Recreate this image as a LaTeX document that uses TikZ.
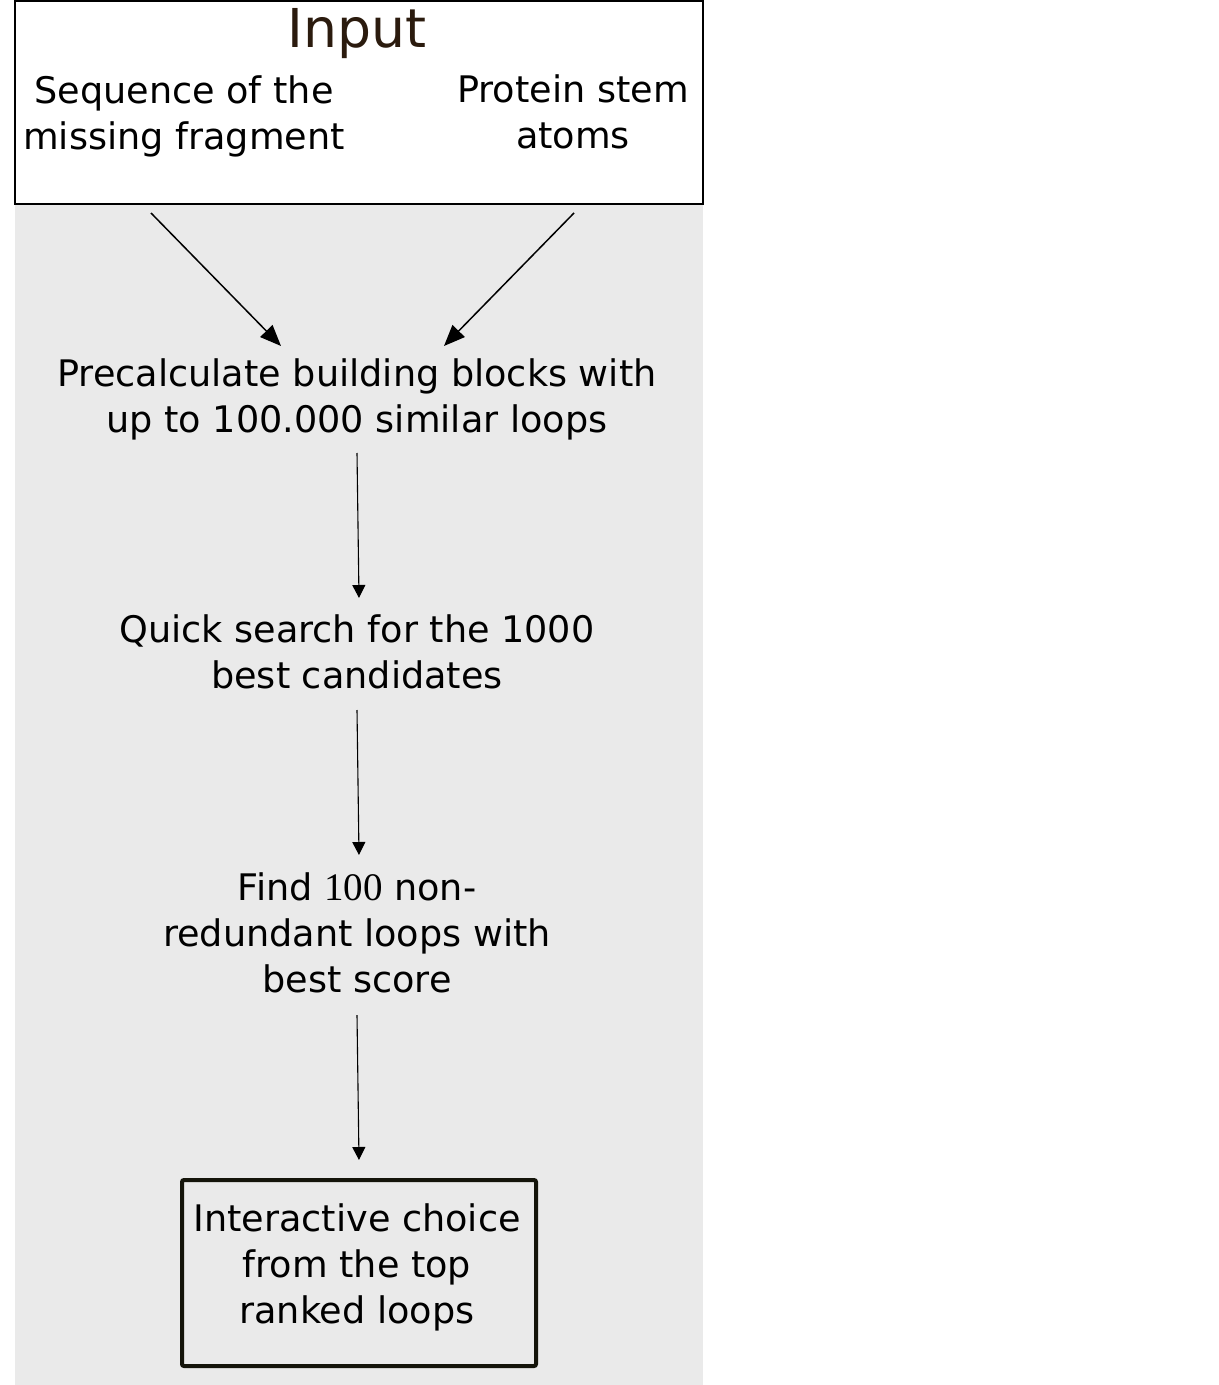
\documentclass[tikz,border=0pt]{standalone}
\usepackage{fontspec}
\setmainfont{DejaVu Sans}
\newfontfamily\numserif{Liberation Serif}
\usetikzlibrary{arrows.meta}
\definecolor{bggray}{HTML}{EAEAEA}
\definecolor{titlebrown}{HTML}{2B1B0E}
\definecolor{boxdark}{HTML}{14140A}
\begin{document}
\begin{tikzpicture}[x=0.5pt,y=-0.5pt,
  txt/.style={align=center,inner sep=0pt,font=\fontsize{18.3}{23}\selectfont,text=black},
  bigarrow/.style={line width=0.75pt,-{Triangle[length=10.5pt,width=8.5pt]}},
  smallarrow/.style={line width=0.55pt,-{Triangle[length=6.5pt,width=6.5pt]}}]
\useasboundingbox (0,0) rectangle (1219,1385);
% background
\fill[bggray] (15,0) rectangle (703,1385);
\filldraw[fill=white,draw=black,line width=0.75pt] (15,1) rectangle (703,204);
% texts
\node[inner sep=0pt,font=\fontsize{26.8}{32}\selectfont,text=titlebrown] (input) at (357,34) {Input};
\node[txt] (seq) at (184,116) {Sequence of the\\missing fragment};
\node[txt] (prot) at (573,112) {Protein stem\\atoms};
\node[txt] (pre) at (357,399) {Precalculate building blocks with\\up to 100.000 similar loops};
\node[txt] (quick) at (357,652) {Quick search for the 1000\\best candidates};
\node[txt] (find) at (357,933) {Find {\numserif\fontsize{19.5}{23}\selectfont 100} non-\\redundant loops with\\best score};
\node[draw=boxdark,line width=2pt,rounded corners=1pt,minimum width=177pt,minimum height=93pt,inner sep=0pt] (box) at (359,1273) {};
\node[txt] (inter) at (357,1267) {Interactive choice\\from the top\\ranked loops};
% arrow endpoints
\coordinate (a1s) at (151,213);
\coordinate (a1e) at (281,346);
\coordinate (a2s) at (574,213);
\coordinate (a2e) at (444,346);
\coordinate (a3s) at (357,453);
\coordinate (a3e) at (359,598);
\coordinate (a4s) at (357,710);
\coordinate (a4e) at (359,855);
\coordinate (a5s) at (357,1015);
\coordinate (a5e) at (359,1160);
\draw[bigarrow] (a1s) -- (a1e);
\draw[bigarrow] (a2s) -- (a2e);
\draw[smallarrow] (a3s) -- (a3e);
\draw[smallarrow] (a4s) -- (a4e);
\draw[smallarrow] (a5s) -- (a5e);
\end{tikzpicture}
\end{document}
